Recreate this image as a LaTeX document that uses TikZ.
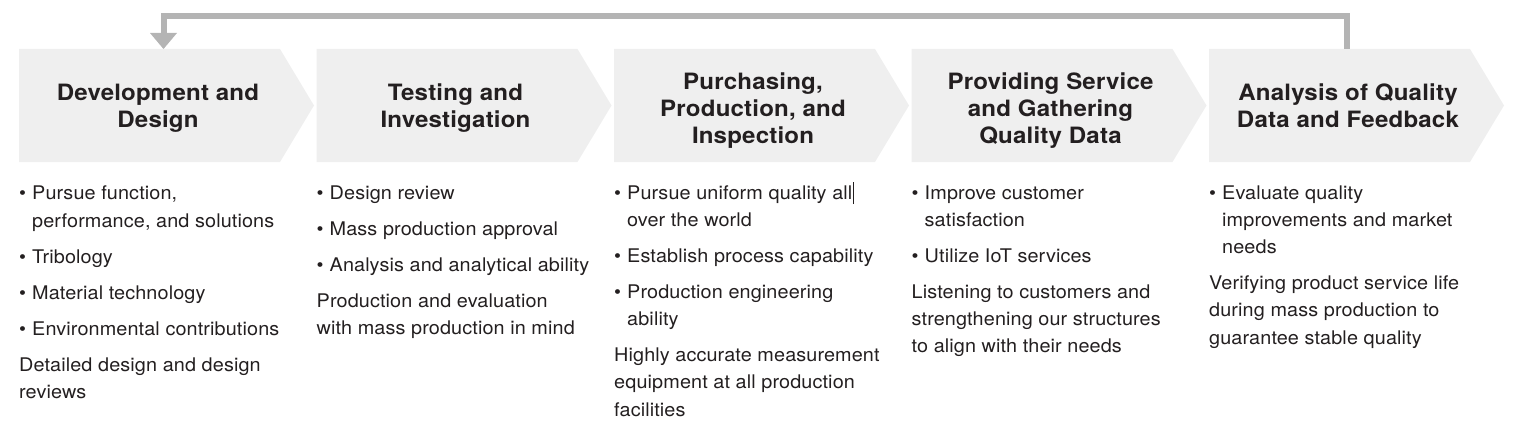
\documentclass[tikz,border=0pt]{standalone}
\usepackage{fontspec}
\setmainfont{TeX Gyre Heros}
\newfontfamily\titlefont[FakeStretch=1.07,LetterSpace=0.8]{TeX Gyre Heros}
\newfontfamily\bodyfont[FakeStretch=1.055,LetterSpace=0.6]{TeX Gyre Heros}
\definecolor{txt}{HTML}{231F20}
\definecolor{chevfill}{HTML}{EFEFEF}
\definecolor{loopgray}{HTML}{B4B4B4}
\newcommand{\bl}[1]{\makebox[13pt][l]{\textbullet}#1}
\newcommand{\cl}[1]{\hspace*{13pt}#1}
\begin{document}
\begin{tikzpicture}[x=1pt,y=-1pt,
  chev/.style={fill=chevfill,draw=none},
  title/.style={anchor=base,align=center,inner sep=0pt,text=txt,
    font=\titlefont\fontsize{22.5}{27}\selectfont\bfseries},
  body/.style={anchor=base west,align=left,inner sep=0pt,text=txt,
    font=\bodyfont\fontsize{18.8}{27.3}\selectfont},
  loop/.style={draw=loopgray,line width=6pt},
  loophead/.style={fill=loopgray,draw=none}]
\useasboundingbox (0,0) rectangle (1520,441);
% chevrons
\foreach \i/\L in {1/19,2/316.5,3/614,4/911.5,5/1209}{
  \fill[chev] (\L,49) -- ({\L+261},49) -- ({\L+295},105.5) -- ({\L+261},162) -- (\L,162) -- cycle;
}
\coordinate (in1) at (163.5,49);
\coordinate (out5) at (1347,49);
% titles (anchor = baseline of last line)
\node[title] (t1) at (158,128) {Development and\\Design};
\node[title] (t2) at (455.5,128) {Testing and\\Investigation};
\node[title] (t3) at (753,143) {Purchasing,\\Production, and\\Inspection};
\node[title] (t4) at (1050.5,143) {Providing Service\\and Gathering\\Quality Data};
\node[title] (t5) at (1348,128) {Analysis of Quality\\Data and Feedback};
% feedback loop
\draw[loop] (out5) -- (1347,16) -- (163.5,16) -- (163.5,34);
\fill[loophead] (150,33) -- (177,33) -- (in1) -- cycle;
% bodies (anchor = baseline of last line)
\node[body] (b1) at (19,398.6) {\bl{Pursue function,}\\\cl{performance, and solutions}\\[8.7pt]
  \bl{Tribology}\\[8.7pt]\bl{Material technology}\\[8.7pt]\bl{Environmental contributions}\\[9pt]
  Detailed design and design\\reviews};
\node[body] (b2) at (316.5,334.3) {\bl{Design review}\\[8.7pt]\bl{Mass production approval}\\[8.7pt]
  \bl{Analysis and analytical ability}\\[8.7pt]Production and evaluation\\with mass production in mind};
\node[body] (b3) at (614,416.2) {\bl{Pursue uniform quality all\kern1pt\rule[-5pt]{0.9pt}{22pt}}\\\cl{over the world}\\[8.7pt]
  \bl{Establish process capability}\\[8.7pt]\bl{Production engineering}\\\cl{ability}\\[8.7pt]
  Highly accurate measurement\\equipment at all production\\facilities};
\node[body] (b4) at (911.5,352.9) {\bl{Improve customer}\\\cl{satisfaction}\\[8.7pt]\bl{Utilize IoT services}\\[8.7pt]
  Listening to customers and\\strengthening our structures\\to align with their needs};
\node[body] (b5) at (1209,344.2) {\bl{Evaluate quality}\\\cl{improvements and market}\\\cl{needs}\\[8.7pt]
  Verifying product service life\\during mass production to\\guarantee stable quality};
\end{tikzpicture}
\end{document}
